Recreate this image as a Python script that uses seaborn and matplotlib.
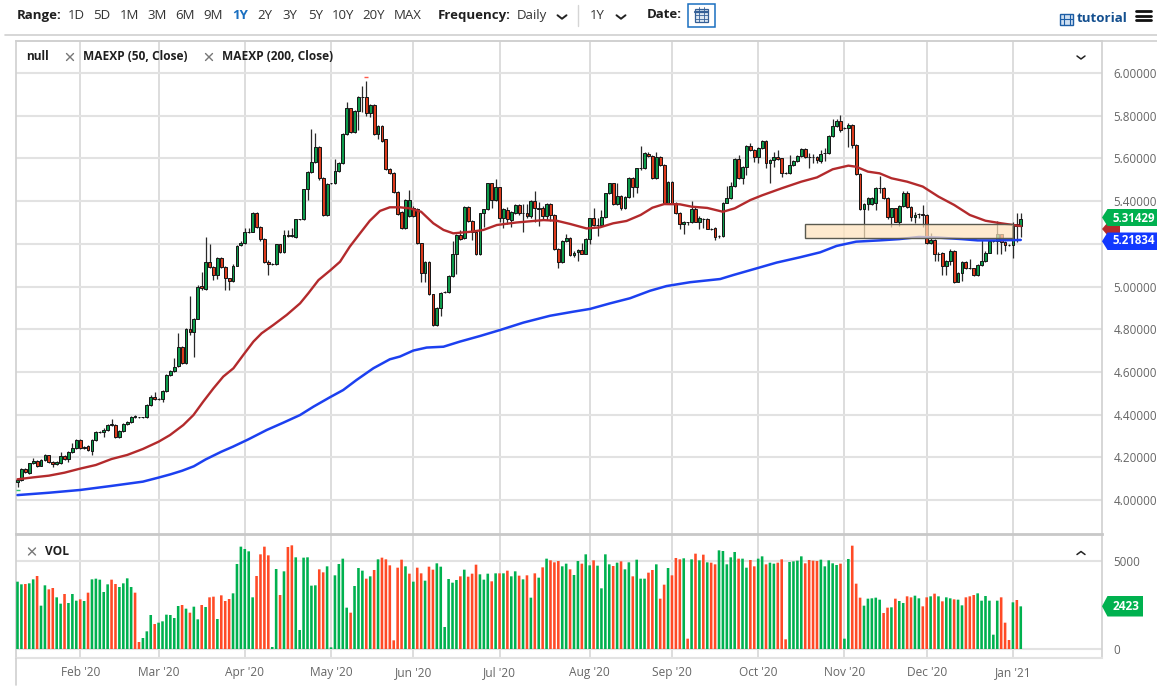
import numpy as np
import pandas as pd
import matplotlib
matplotlib.use("Agg")
import matplotlib.pyplot as plt
from matplotlib.patches import Rectangle, Polygon
import seaborn as sns

opens = [
4.085,4.094,4.143,4.128,4.175,4.183,4.161,4.187,4.210,4.180,
4.168,4.175,4.206,4.190,4.226,4.242,4.281,4.245,4.253,4.231,
4.281,4.317,4.320,4.328,4.351,4.351,4.294,4.325,4.356,4.364,
4.390,4.388,4.387,4.387,4.447,4.484,4.473,4.472,4.512,4.584,
4.606,4.628,4.715,4.640,4.800,4.787,4.850,5.002,4.990,5.116,
5.090,5.054,5.132,5.093,5.038,5.026,5.098,5.194,5.205,5.254,
5.257,5.346,5.280,5.222,5.116,5.105,5.105,5.197,5.163,5.240,
5.237,5.233,5.315,5.315,5.455,5.536,5.585,5.655,5.507,5.335,
5.483,5.486,5.540,5.577,5.714,5.834,5.725,5.820,5.886,5.886,
5.811,5.850,5.714,5.752,5.689,5.549,5.530,5.441,5.350,5.272,
5.330,5.370,5.363,5.202,5.065,5.116,4.963,4.820,4.898,4.974,
4.974,5.049,5.152,5.240,5.228,5.374,5.308,5.257,5.151,5.343,
5.361,5.483,5.405,5.465,5.319,5.358,5.312,5.343,5.383,5.343,
5.343,5.330,5.402,5.370,5.370,5.332,5.386,5.333,5.174,5.116,
5.215,5.229,5.148,5.160,5.170,5.154,5.221,5.319,5.288,5.288,
5.327,5.436,5.483,5.386,5.425,5.366,5.420,5.510,5.468,5.553,
5.553,5.621,5.611,5.507,5.608,5.569,5.390,5.491,5.390,5.343,
5.293,5.300,5.300,5.361,5.304,5.318,5.318,5.271,5.276,5.236,
5.236,5.393,5.413,5.472,5.596,5.507,5.561,5.660,5.640,5.608,
5.647,5.683,5.580,5.592,5.608,5.600,5.530,5.530,5.568,5.589,
5.612,5.645,5.608,5.605,5.605,5.590,5.624,5.624,5.706,5.752,
5.777,5.742,5.742,5.755,5.663,5.527,5.361,5.385,5.385,5.390,
5.460,5.460,5.413,5.327,5.366,5.304,5.377,5.440,5.374,5.324,
5.340,5.340,5.335,5.205,5.218,5.152,5.155,5.098,5.121,5.168,
5.023,5.065,5.116,5.085,5.085,5.055,5.102,5.121,5.158,5.215,
5.215,5.244,5.210,5.193,5.193,5.293,5.283]
closes = [
4.095,4.144,4.133,4.172,4.182,4.161,4.187,4.210,4.180,4.168,
4.178,4.206,4.193,4.226,4.242,4.281,4.245,4.250,4.234,4.281,
4.317,4.320,4.328,4.351,4.356,4.294,4.323,4.356,4.364,4.390,
4.394,4.387,4.387,4.447,4.484,4.473,4.473,4.512,4.584,4.604,
4.625,4.715,4.640,4.800,4.787,4.846,5.000,4.991,5.116,5.090,
5.054,5.132,5.093,5.038,5.026,5.098,5.191,5.205,5.254,5.257,
5.346,5.280,5.222,5.116,5.105,5.105,5.197,5.163,5.240,5.237,
5.240,5.315,5.315,5.455,5.536,5.585,5.655,5.507,5.335,5.480,
5.483,5.540,5.577,5.714,5.834,5.725,5.822,5.886,5.887,5.811,
5.850,5.714,5.752,5.683,5.549,5.530,5.441,5.338,5.272,5.405,
5.405,5.330,5.202,5.065,5.116,4.963,4.820,4.898,4.971,4.974,
5.049,5.152,5.240,5.223,5.374,5.308,5.257,5.151,5.343,5.361,
5.483,5.405,5.465,5.319,5.361,5.315,5.350,5.383,5.343,5.343,
5.330,5.402,5.370,5.365,5.332,5.386,5.333,5.174,5.116,5.215,
5.229,5.148,5.159,5.170,5.154,5.221,5.319,5.288,5.288,5.327,
5.436,5.483,5.386,5.425,5.366,5.420,5.510,5.468,5.553,5.557,
5.624,5.611,5.507,5.608,5.569,5.390,5.491,5.390,5.343,5.293,
5.302,5.300,5.361,5.304,5.320,5.318,5.271,5.271,5.233,5.236,
5.393,5.413,5.472,5.596,5.507,5.561,5.660,5.640,5.608,5.647,
5.683,5.580,5.592,5.608,5.596,5.530,5.530,5.568,5.589,5.612,
5.645,5.608,5.608,5.605,5.592,5.619,5.624,5.705,5.752,5.777,
5.733,5.742,5.755,5.663,5.527,5.361,5.385,5.413,5.413,5.460,
5.460,5.413,5.327,5.366,5.304,5.377,5.440,5.374,5.324,5.335,
5.340,5.335,5.205,5.218,5.152,5.152,5.098,5.121,5.168,5.023,
5.065,5.116,5.085,5.085,5.055,5.102,5.121,5.158,5.215,5.215,
5.244,5.210,5.193,5.193,5.293,5.283,5.314]
highs = [
4.100,4.148,4.150,4.175,4.195,4.188,4.192,4.214,4.213,4.185,
4.182,4.225,4.210,4.230,4.265,4.285,4.285,4.255,4.256,4.285,
4.322,4.325,4.335,4.358,4.378,4.355,4.327,4.360,4.368,4.394,
4.398,4.390,4.389,4.450,4.490,4.508,4.480,4.516,4.588,4.610,
4.665,4.780,4.722,4.805,4.955,4.852,5.005,5.070,5.233,5.200,
5.095,5.138,5.140,5.098,5.042,5.105,5.195,5.212,5.272,5.272,
5.350,5.350,5.285,5.225,5.122,5.108,5.200,5.200,5.265,5.265,
5.272,5.318,5.318,5.458,5.540,5.740,5.717,5.658,5.512,5.484,
5.487,5.596,5.582,5.718,5.866,5.838,5.826,5.890,5.940,5.964,
5.855,5.854,5.758,5.758,5.692,5.554,5.535,5.446,5.355,5.408,
5.452,5.375,5.366,5.205,5.120,5.120,4.967,4.902,4.975,4.978,
5.052,5.212,5.244,5.265,5.378,5.378,5.312,5.262,5.346,5.365,
5.487,5.486,5.502,5.468,5.368,5.372,5.355,5.388,5.388,5.385,
5.385,5.406,5.445,5.395,5.376,5.390,5.390,5.338,5.178,5.219,
5.246,5.234,5.165,5.175,5.205,5.225,5.323,5.370,5.323,5.360,
5.440,5.487,5.487,5.483,5.430,5.425,5.514,5.514,5.557,5.658,
5.628,5.628,5.615,5.628,5.612,5.573,5.495,5.495,5.394,5.347,
5.306,5.303,5.402,5.375,5.330,5.322,5.322,5.274,5.280,5.240,
5.397,5.470,5.490,5.600,5.617,5.565,5.664,5.671,5.644,5.652,
5.687,5.687,5.596,5.632,5.638,5.604,5.534,5.616,5.594,5.618,
5.650,5.650,5.624,5.620,5.610,5.640,5.650,5.710,5.783,5.785,
5.803,5.746,5.765,5.760,5.667,5.531,5.390,5.418,5.418,5.464,
5.517,5.465,5.417,5.370,5.370,5.381,5.445,5.445,5.378,5.350,
5.345,5.382,5.340,5.250,5.222,5.160,5.160,5.125,5.175,5.172,
5.070,5.120,5.120,5.130,5.088,5.106,5.220,5.165,5.220,5.220,
5.305,5.248,5.215,5.197,5.300,5.342,5.342]
lows = [
4.060,4.090,4.125,4.120,4.170,4.155,4.158,4.182,4.172,4.155,
4.162,4.170,4.188,4.180,4.222,4.238,4.238,4.238,4.228,4.212,
4.275,4.312,4.296,4.322,4.345,4.290,4.290,4.320,4.350,4.360,
4.385,4.385,4.385,4.385,4.442,4.468,4.468,4.460,4.508,4.580,
4.600,4.622,4.636,4.636,4.775,4.668,4.846,4.985,4.985,5.085,
5.030,5.035,5.088,4.985,4.985,5.020,5.095,5.190,5.200,5.250,
5.254,5.272,5.215,5.108,5.054,5.100,5.100,5.158,5.158,5.230,
5.232,5.228,5.312,5.312,5.405,5.530,5.580,5.500,5.330,5.330,
5.478,5.480,5.535,5.572,5.710,5.720,5.720,5.733,5.815,5.800,
5.795,5.708,5.690,5.678,5.544,5.526,5.436,5.335,5.268,5.268,
5.325,5.325,5.198,5.023,5.020,4.958,4.815,4.815,4.860,4.968,
4.970,5.045,5.060,5.218,5.224,5.304,5.220,5.147,5.148,5.280,
5.357,5.370,5.400,5.300,5.273,5.295,5.280,5.338,5.335,5.255,
5.320,5.320,5.300,5.285,5.310,5.310,5.305,5.170,5.087,5.110,
5.210,5.144,5.140,5.118,5.150,5.150,5.200,5.284,5.237,5.284,
5.323,5.432,5.380,5.380,5.360,5.362,5.416,5.420,5.440,5.545,
5.550,5.606,5.503,5.503,5.565,5.386,5.386,5.386,5.339,5.270,
5.248,5.290,5.296,5.300,5.270,5.273,5.267,5.265,5.218,5.228,
5.232,5.389,5.409,5.468,5.503,5.480,5.520,5.636,5.585,5.580,
5.643,5.553,5.486,5.560,5.592,5.512,5.526,5.526,5.564,5.585,
5.608,5.604,5.553,5.580,5.580,5.580,5.590,5.620,5.700,5.748,
5.725,5.738,5.655,5.648,5.523,5.357,5.225,5.360,5.380,5.358,
5.440,5.409,5.315,5.278,5.300,5.285,5.373,5.370,5.305,5.298,
5.320,5.280,5.200,5.200,5.120,5.120,5.055,5.055,5.100,5.018,
5.020,5.025,5.080,5.080,5.050,5.050,5.095,5.115,5.155,5.210,
5.150,5.150,5.165,5.188,5.132,5.210,5.230]

volume = [
3826,3674,3693,3731,3958,4148,2462,3618,3390,3466,
2936,2576,3125,2614,3125,2746,2822,2727,3201,3958,
3996,3940,3239,3674,3940,3693,3523,3731,4015,3523,
3201,398,625,1004,1932,1420,1496,1572,1951,1932,
1761,2443,2500,2292,2064,2405,1686,2500,2386,2936,
2974,1705,3049,2727,2841,3163,4830,5815,5682,5549,
2936,4148,5379,5815,5322,114,4546,3068,4413,5796,
5890,5209,1080,5190,5209,3599,3618,4527,4356,4697,
95,4186,4830,5133,2349,2064,3580,4602,4451,3996,
4129,4489,5095,5190,5095,4754,492,4621,5076,4697,
4280,3826,4621,4299,3883,4678,4508,4868,4678,1250,
3977,3769,3921,4129,4508,4110,4280,4792,4243,3940,
4280,3845,4299,4299,4299,4451,4129,4413,4167,3958,
4186,2917,4299,4053,4640,5133,5038,4924,5000,4697,
4849,4527,4205,5000,4849,5379,4754,5038,4735,3447,
5379,4811,4716,4905,4981,4527,4924,4129,5076,3996,
3996,4337,4489,4811,2860,3655,4602,4186,5171,5095,
5152,587,5095,5417,5038,5360,4924,4905,4811,5606,
5568,4811,5209,5512,5133,5133,4621,5057,4697,5133,
5265,4811,4905,4849,4905,5095,549,4943,4981,5019,
5265,4868,5057,5019,5000,5076,4697,5038,4868,4773,
4849,587,5114,5871,3712,2917,2462,2860,2879,2917,
2803,2046,2349,2368,2860,2727,2614,2993,2936,3030,
2879,2424,2936,2993,3144,2993,2708,2936,2879,2822,
2803,2481,2936,2993,3068,3163,2746,3011,2746,814,
2746,2936,1496,511,2652,2784,2423]
volume_side = (
"ggrggrggrr" "ggrgggrgrg" "ggggrrgggg" "rrgggrgggg" "ggrgrggrgr"
"rgrrrggggg" "grrrrggrgr" "rggggggrrg" "gggggrgggr" "grgrrrrrrg"
"rgrrgrrggg" "gggrgrrrgg" "grgrgrggrg" "rgrgrgrrrg" "grggrggrgg"
"ggrgrggrgg" "grrgrrgrrr" "grgrgrgrrg" "ggggrggrrg" "grggrrrggg"
"grrrrggggg" "rggrrrgggg" "grrgrggrrg" "grrgrgrggr" "ggrrrggggg"
"grrrgrg")

ma50_index = [0,4,8,12,16,20,24,28,32,36,38.9,42.3,44.9,47.4,50,52.5,55.1,57.6,60.2,62.3,65.3,68.7,
              72.1,74.2,76.8,79.7,82.3,84.8,87.4,89.9,92.5,95,97.6,100.1,103,106.1,108.7,111.2,
              115.9,118.9,122.3,127.4,134.2,137.6,141,145.2,148.6,152,155.4,159,162,165,169,172,
              176,180,183,187,190,195,200,204,208,212,214,217,220,223,227,231,235,239,243,247,251,256]
ma50 = [4.097,4.106,4.114,4.128,4.147,4.164,4.192,4.211,4.239,4.273,4.304,4.351,4.398,4.461,4.523,
        4.578,4.617,4.679,4.742,4.781,4.820,4.867,4.921,4.968,5.030,5.074,5.116,5.187,5.249,5.308,
        5.354,5.371,5.371,5.366,5.350,5.296,5.265,5.249,5.257,5.265,5.288,5.300,5.311,5.308,5.293,
        5.272,5.277,5.296,5.307,5.335,5.369,5.386,5.385,5.374,5.368,5.350,5.366,5.405,5.427,5.460,
        5.491,5.511,5.549,5.566,5.561,5.538,5.530,5.507,5.491,5.468,5.421,5.382,5.335,5.308,5.296,5.283]
ma200_index = [0,8,16,24,32,36,39,42,45,48,52,55,58.9,63.6,67.8,72.1,75.5,79.7,83.1,86.5,90.8,95,
               97.6,101,104.4,108.7,112.9,118,123.1,129.1,135.9,141.8,146.1,151.2,156.3,161.4,165.6,
               171.6,179.3,182.7,188.6,193.7,199.7,204.8,209,214,220,225,230,235,241,245,250,256]
ma200 = [4.023,4.034,4.047,4.066,4.086,4.105,4.120,4.137,4.158,4.190,4.226,4.250,4.284,4.328,4.362,
         4.398,4.437,4.481,4.515,4.562,4.617,4.659,4.672,4.700,4.714,4.718,4.742,4.768,4.796,4.831,
         4.863,4.882,4.895,4.921,4.945,4.980,5.002,5.020,5.035,5.054,5.085,5.112,5.137,5.160,5.190,
         5.210,5.216,5.222,5.232,5.229,5.222,5.216,5.216,5.218]

month_ticks = [16,36,58,80,101,123,146,167,189,211,232,254]
month_labels = ["Feb '20","Mar '20","Apr '20","May '20","Jun '20","Jul '20","Aug '20","Sep '20",
                "Oct '20","Nov '20","Dec '20","Jan '21"]
price_ticks = [4.0,4.2,4.4,4.6,4.8,5.0,5.2,5.4,5.6,5.8,6.0]
# the 5.2 label sits under the value badges in the reference, so it shows nothing
price_labels = ["4.00000","4.20000","4.40000","4.60000","4.80000","5.00000","","5.40000",
                "5.60000","5.80000","6.00000"]
volume_ticks = [0,5000]
range_items = ["1D","5D","1M","3M","6M","9M","1Y","2Y","3Y","5Y","10Y","20Y","MAX"]
zone_start, zone_end, zone_low, zone_high = 201, 254, 5.226, 5.294

sns.set_theme(style="white")
plt.rcParams["font.family"] = ["Open Sans", "DejaVu Sans"]

W, H = 1157, 688
fig = plt.figure(figsize=(W/100, H/100), dpi=100, facecolor="white")
L, R = 15.5, 1102.0
def axes_rect(top, bottom):
    return [L/W, 1-bottom/H, (R-L)/W, (bottom-top)/H]
ax = fig.add_axes(axes_rect(40.5, 533.5))
vx = fig.add_axes(axes_rect(533.5, 658))
xlim = ((L-17.5)/3.919, (R-17.5)/3.919)

GRID = "#e2e2e2"
VGRID = "#dadada"
TXT = "#666666"
UP, DOWN = "#0c9a4a", "#dc3a1c"

for a in (ax, vx):
    a.set_axisbelow(True)
    a.grid(axis="y", color=GRID, lw=1.5)
    a.grid(axis="x", color=VGRID, lw=1.3)

# candles
idx = np.arange(len(closes))
o, c, h, l = map(np.array, (opens, closes, highs, lows))
ax.vlines(idx, l, h, colors="#2a2a2a", lw=0.9, zorder=2)
body_col = np.where(c >= o, UP, DOWN)
ax.bar(idx, np.abs(c-o), bottom=np.minimum(o, c), width=0.72, color=body_col,
       edgecolor="#141414", linewidth=0.7, zorder=3)
ax.plot([89], [5.98], marker="_", ms=2.5, color="#ff5a4a", mew=1, zorder=3)
ax.plot([0], [4.047], marker="_", ms=2.5, color="#2fc26f", mew=1, zorder=3)

# moving averages
sns.lineplot(x=ma50_index, y=ma50, ax=ax, color="#b32a2c", lw=1.7, zorder=4, legend=False, errorbar=None)
sns.lineplot(x=ma200_index, y=ma200, ax=ax, color="#1c40f0", lw=1.8, zorder=4, legend=False, errorbar=None)

# zone
ax.add_patch(Rectangle((zone_start, zone_low), zone_end-zone_start, zone_high-zone_low,
                       facecolor=(0.996, 0.89, 0.74, 0.72), edgecolor="#5a5a50", lw=1.0, zorder=5))

ax.set_xlim(*xlim)
ax.set_ylim(4-(533.5-500)/213.5, 4+(500-40.5)/213.5)
ax.set_yticks(price_ticks, price_labels)
ax.set_xticks(month_ticks, [""]*len(month_ticks))
ax.yaxis.tick_right()
ax.tick_params(axis="y", length=0, pad=8.4, labelsize=8.4, labelcolor=TXT)
ax.tick_params(axis="x", length=0)
ax.set_xlabel(""); ax.set_ylabel("")

# volume
vol_df = pd.DataFrame({"i": idx, "v": volume, "side": list(volume_side)})
sns.barplot(data=vol_df, x="i", y="v", hue="side", palette={"g": "#00b14f", "r": "#ff4a26"},
            dodge=False, native_scale=True, width=0.66, saturation=1, legend=False, ax=vx,
            zorder=3, linewidth=0, edgecolor="none")
for cont in vx.containers:
    for p in cont:
        p.set_snap(False)
vx.set_xlim(*xlim)
vx.set_ylim(-(658-649)/88*5000, (649-533.5)/88*5000)
vx.set_yticks(volume_ticks, ["0", "5000"])
vx.set_xticks(month_ticks, month_labels)
vx.yaxis.tick_right()
vx.tick_params(axis="y", length=0, pad=8.4, labelsize=8.4, labelcolor=TXT)
vx.tick_params(axis="x", length=3.6, width=1, color=VGRID, pad=2.5, labelsize=8.6, labelcolor=TXT)
vx.set_xlabel(""); vx.set_ylabel("")
vx.grid(axis="x", color=VGRID, lw=1.3)
vx.grid(axis="y", color=GRID, lw=1.5)

for a in (ax, vx):
    for s in a.spines.values():
        s.set_color("#d0d0d0"); s.set_linewidth(1.2)
ax.spines["bottom"].set_visible(False)
vx.spines["top"].set_color("#c8c8c8"); vx.spines["top"].set_linewidth(2)
vx.spines["bottom"].set_color(GRID); vx.spines["bottom"].set_linewidth(1.5)

# overlay in pixel coordinates for the page furniture
ui = fig.add_axes([0, 0, 1, 1], zorder=10)
ui.set_xlim(0, W); ui.set_ylim(H, 0); ui.axis("off"); ui.patch.set_alpha(0)

def t(x, y, s, size=9, color="#1f1f1f", weight="normal", ha="left"):
    ui.text(x, y, s, fontsize=size, color=color, fontweight=weight, ha=ha, va="center")
def chevron(x, y, w=4.5, hgt=3.5, up=False, lw=1.4):
    d = -hgt if up else hgt
    ui.plot([x-w, x, x+w], [y-d/2, y+d/2, y-d/2], color="#222222", lw=lw, solid_capstyle="round")
def cross(x, y, r=3.5):
    ui.plot([x-r, x+r], [y-r, y+r], color="#777777", lw=1)
    ui.plot([x-r, x+r], [y+r, y-r], color="#777777", lw=1)
def badge(top, bot, right, color):
    mid = (top+bot)/2
    ui.add_patch(Polygon([(1102, mid), (1107.5, top), (right, top), (right, bot), (1107.5, bot)],
                         closed=True, facecolor=color, edgecolor="none"))

ui.plot([5, W], [34.5, 34.5], color="#cfcfcf", lw=1.2)
ui.plot([15.5, W], [40.5, 40.5], color="#d0d0d0", lw=1.2)
ui.plot([15.5, 15.5], [658, 685], color="#d0d0d0", lw=1.2)

t(16.5, 15, "Range:", size=9.5, weight="bold")
centers = [76,102,129,157,185,213,240,265,290,316,343,374,408]
for cx, s in zip(centers, range_items):
    active = s == "1Y"
    t(cx, 15.5, s, size=9.5, color="#1a6fc0" if active else "#333333",
      weight="bold" if active else "normal", ha="center")
t(438, 15, "Frequency:", size=9.5, weight="bold")
t(517, 15.5, "Daily", size=9.5, color="#333333")
chevron(562, 17)
ui.plot([578, 578], [5, 26], color="#d5d5d5", lw=1)
t(590, 15.5, "1Y", size=9.5, color="#333333")
chevron(621, 17)
t(647, 15, "Date:", size=9.5, weight="bold")
ui.add_patch(Rectangle((687.5, 3.5), 27, 23, facecolor="white", edgecolor="#1a6fc0", lw=1.1))
ui.add_patch(Rectangle((694.5, 9), 13, 13, facecolor="#dbe6f2", edgecolor="#345f96", lw=0.9))
ui.plot([694.5, 707.5], [11.5, 11.5], color="#345f96", lw=1.6)
for gx in (698.5, 703.5):
    ui.plot([gx, gx], [7, 22], color="#345f96", lw=0.6)
for gy in (15, 18.5):
    ui.plot([694.5, 707.5], [gy, gy], color="#345f96", lw=0.6)

ui.add_patch(Rectangle((1060, 13.5), 13, 11, facecolor="#cfe0f2", edgecolor="#1d5ea6", lw=1))
for gx in (1063.5, 1069.5):
    ui.plot([gx, gx], [13.5, 24.5], color="#1d5ea6", lw=0.8)
ui.plot([1060, 1073], [19, 19], color="#1d5ea6", lw=0.8)
t(1077, 19, "tutorial", size=9.6, color="#134f8f", weight="bold")
for hy in (11, 15.5, 20):
    ui.plot([1136, 1151], [hy, hy], color="#111111", lw=2)

t(26, 57, "null", size=8.6, weight="bold")
cross(70, 57)
t(83, 57, "MAEXP (50, Close)", size=8.6, weight="bold")
cross(209, 57)
t(222, 57, "MAEXP (200, Close)", size=8.6, weight="bold")
chevron(1081, 57.5, w=4, hgt=3, lw=1.1)
cross(32, 551.5)
t(45, 551.5, "VOL", size=8.6, weight="bold")
chevron(1081, 553, w=4, hgt=3, up=True, lw=1.1)

ui.add_patch(Polygon([(1102, 229), (1108, 222), (1120, 222), (1120, 236), (1108, 236)],
                     closed=True, facecolor="#b32a2c", edgecolor="none"))
badge(209, 226, 1157, "#00b14f")
badge(232.5, 250, 1157, "#1238ff")
t(1112.5, 218, "5.31429", size=8.3, color="white", weight="bold")
t(1112.5, 240, "5.21834", size=8.3, color="white", weight="bold")
badge(596, 616.5, 1143, "#00b14f")
t(1112.5, 606, "2423", size=8.5, color="white", weight="bold")

fig.savefig("out.png", dpi=100, facecolor="white")
